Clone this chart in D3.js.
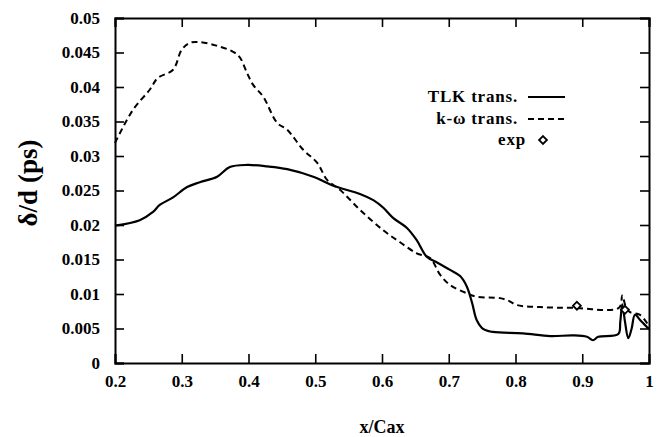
<!DOCTYPE html>
<html>
<head>
<meta charset="utf-8">
<script src="https://cdn.jsdelivr.net/npm/d3@7"></script>
<style>
  body { margin: 0; background: #fff; }
  text { font-family: "Liberation Serif", "DejaVu Serif", serif; font-weight: bold; fill: #000; }
</style>
</head>
<body>
<div id="chart"></div>
<script>
// TLK transition model (solid)
var tlkX = [0.2, 0.237, 0.257, 0.267, 0.287, 0.308, 0.327, 0.353, 0.372, 0.398, 0.428, 0.458, 0.497, 0.527,
  0.567, 0.587, 0.602, 0.617, 0.637, 0.652, 0.667, 0.682, 0.702, 0.717, 0.727, 0.735, 0.742, 0.752, 0.766,
  0.811, 0.852, 0.886, 0.907, 0.916, 0.924, 0.954, 0.957, 0.960, 0.964, 0.969, 0.974, 0.979, 0.987, 0.997, 1.0];
var tlkY = [0.0199, 0.0207, 0.0219, 0.0229, 0.0240, 0.0255, 0.0262, 0.0270, 0.0284, 0.0287, 0.0285, 0.0281, 0.0270, 0.0257,
  0.0245, 0.0236, 0.0225, 0.0210, 0.0196, 0.0178, 0.0154, 0.0146, 0.0135, 0.0126, 0.0111, 0.0087, 0.0062, 0.0049, 0.0045,
  0.0043, 0.0039, 0.0040, 0.0038, 0.0033, 0.0038, 0.0042, 0.0060, 0.0085, 0.0060, 0.0036, 0.0050, 0.0070, 0.0062, 0.0052, 0.0050];

// k-omega transition model (dashed)
var kwX = [0.2, 0.227, 0.252, 0.264, 0.287, 0.300, 0.312, 0.327, 0.352, 0.377, 0.387, 0.398, 0.407, 0.422, 0.443,
  0.458, 0.482, 0.503, 0.518, 0.537, 0.567, 0.601, 0.627, 0.652, 0.672, 0.687, 0.702, 0.727, 0.742, 0.777,
  0.790, 0.802, 0.837, 0.886, 0.955, 0.960, 0.965, 0.971, 0.986, 0.997, 1.0];
var kwY = [0.0319, 0.0367, 0.0396, 0.0413, 0.0425, 0.0454, 0.0464, 0.0465, 0.0460, 0.0451, 0.0443, 0.0420, 0.0403, 0.0386, 0.0348,
  0.0338, 0.0309, 0.0290, 0.0265, 0.0251, 0.0222, 0.0193, 0.0175, 0.0159, 0.0152, 0.0128, 0.0113, 0.0101, 0.0096, 0.0094,
  0.0090, 0.0084, 0.0081, 0.0080, 0.0080, 0.0098, 0.0082, 0.0074, 0.0070, 0.0058, 0.0052];

// experiment
var expX = [0.892, 0.964];
var expY = [0.0083, 0.0077];

var xTicks = [0.2, 0.3, 0.4, 0.5, 0.6, 0.7, 0.8, 0.9, 1];
var yTicks = [0, 0.005, 0.01, 0.015, 0.02, 0.025, 0.03, 0.035, 0.04, 0.045, 0.05];

var margin = {top: 18, right: 9, bottom: 74, left: 115},
    width = 658 - margin.left - margin.right,
    height = 437 - margin.top - margin.bottom;

var svg = d3.select("#chart")
    .append("svg")
    .attr("width", 658)
    .attr("height", 437)
  .append("g")
    .attr("transform", "translate(" + margin.left + "," + margin.top + ")");

var x = d3.scaleLinear().domain([0.2, 1]).range([0, width]);
var y = d3.scaleLinear().domain([0, 0.05]).range([height, 0]);

function fmt(d) { return d === 1 ? "1" : d === 0 ? "0" : String(+d.toFixed(3)); }

// axes, ticks pointing inward
var tickLen = 9;
svg.append("g")
    .attr("transform", "translate(0," + height + ")")
    .call(d3.axisBottom(x).tickValues(xTicks).tickSize(-tickLen).tickPadding(12).tickFormat(fmt));
svg.append("g")
    .call(d3.axisLeft(y).tickValues(yTicks).tickSize(-tickLen).tickPadding(15).tickFormat(fmt));
svg.append("g")
    .call(d3.axisTop(x).tickValues(xTicks).tickSize(-tickLen).tickFormat(""));
svg.append("g")
    .attr("transform", "translate(" + width + ",0)")
    .call(d3.axisRight(y).tickValues(yTicks).tickSize(-tickLen).tickFormat(""));

svg.selectAll(".domain").attr("stroke", "#000").attr("stroke-width", 2);
svg.selectAll(".tick line").attr("stroke", "#000").attr("stroke-width", 1.6);
svg.selectAll(".tick text")
    .style("font-family", "'Liberation Serif', serif")
    .style("font-weight", "bold")
    .style("font-size", "17px")
    .attr("fill", "#000");

// axis titles
svg.append("text")
    .attr("x", width / 2)
    .attr("y", height + 70)
    .attr("text-anchor", "middle")
    .style("font-size", "18px")
    .text("x/Cax");
svg.append("text")
    .attr("transform", "rotate(-90)")
    .attr("x", -(183 - margin.top))
    .attr("y", 37 - margin.left)
    .attr("text-anchor", "middle")
    .style("font-size", "27px")
    .text("δ/d (ps)");

var line = d3.line()
    .curve(d3.curveCatmullRom.alpha(0.5))
    .x(function(d) { return x(d[0]); })
    .y(function(d) { return y(d[1]); });

var tlk = tlkX.map(function(v, i) { return [v, tlkY[i]]; });
var kw = kwX.map(function(v, i) { return [v, kwY[i]]; });
var exp = expX.map(function(v, i) { return [v, expY[i]]; });

svg.append("path")
    .datum(kw)
    .attr("fill", "none")
    .attr("stroke", "#000")
    .attr("stroke-width", 2)
    .attr("stroke-dasharray", "6,4")
    .attr("d", line);

svg.append("path")
    .datum(tlk)
    .attr("fill", "none")
    .attr("stroke", "#000")
    .attr("stroke-width", 2.2)
    .attr("stroke-linejoin", "round")
    .attr("d", line);

var diamond = d3.symbol().type(d3.symbolDiamond2).size(40);
svg.selectAll(".exp")
    .data(exp)
    .enter().append("path")
    .attr("class", "exp")
    .attr("transform", function(d) { return "translate(" + x(d[0]) + "," + y(d[1]) + ")"; })
    .attr("d", diamond)
    .attr("fill", "#fff")
    .attr("stroke", "#000")
    .attr("stroke-width", 1.8);

// legend
var legend = svg.append("g").attr("transform", "translate(" + (518 - margin.left) + ",0)");
var legendItems = ["TLK trans.", "k-ω trans.", "exp"];
var legendY = [97, 119, 140];
legend.selectAll("text")
    .data(legendItems)
    .enter().append("text")
    .attr("x", function(d, i) { return i === 2 ? 8 : 0; })
    .attr("y", function(d, i) { return legendY[i] - margin.top + 5; })
    .attr("text-anchor", "end")
    .style("font-size", "17px")
    .style("letter-spacing", "0.8px")
    .text(function(d) { return d; });
legend.append("line")
    .attr("x1", 10).attr("x2", 47)
    .attr("y1", legendY[0] - margin.top).attr("y2", legendY[0] - margin.top)
    .attr("stroke", "#000").attr("stroke-width", 2);
legend.append("line")
    .attr("x1", 10).attr("x2", 47)
    .attr("y1", legendY[1] - margin.top).attr("y2", legendY[1] - margin.top)
    .attr("stroke", "#000").attr("stroke-width", 2)
    .attr("stroke-dasharray", "6,4");
legend.append("path")
    .attr("transform", "translate(25," + (legendY[2] - margin.top) + ")")
    .attr("d", diamond)
    .attr("fill", "#fff")
    .attr("stroke", "#000")
    .attr("stroke-width", 1.8);
</script>
</body>
</html>
